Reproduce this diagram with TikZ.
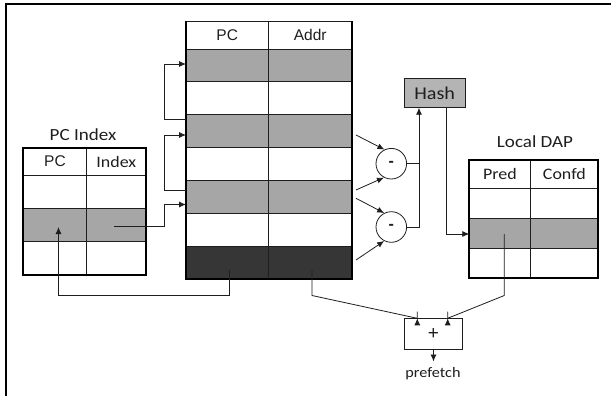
\documentclass[tikz,border=0pt]{standalone}
\usepackage{fontspec}
\setmainfont{Carlito}
\newfontfamily\cf[FakeStretch=1.12]{Carlito}
\newfontfamily\af{Liberation Sans}
\usetikzlibrary{arrows.meta,calc}
\definecolor{gA}{HTML}{A6A6A6}
\definecolor{gD}{HTML}{363636}
\definecolor{gH}{HTML}{B4B4B4}
\definecolor{ink}{HTML}{1E1E1E}
\begin{document}
\begin{tikzpicture}[x=1pt,y=-1pt,
  cellbox/.style={draw=ink, line width=0.8pt, inner sep=0pt, outer sep=0pt, anchor=north west, text=ink},
  arr/.style={draw=ink, line width=0.8pt, -{Latex[length=7pt,width=6pt]}},
  ln/.style={draw=ink, line width=0.8pt},
  heavy/.style={draw=black, line width=2.2pt},
  ttl/.style={font=\cf\fontsize{17}{19}\selectfont, text=ink, inner sep=0pt},
  hdr/.style={font=\af\fontsize{15.5}{17}\selectfont},
  hdrc/.style={font=\cf\fontsize{16}{18}\selectfont},
]
\useasboundingbox (0,0) rectangle (611,396);
% frame
\draw[heavy] (6,396) -- (6,4) -- (611,4);

% ---------- main table ----------
\node[cellbox, minimum width=82.5pt, minimum height=28pt, hdr] (mhL) at (186,21) {PC};
\node[cellbox, minimum width=83.5pt, minimum height=28pt, hdr] (mhR) at (268.5,21) {Addr};
\foreach \r/\f in {1/gA,2/white,3/gA,4/white,5/gA,6/white,7/gD}{
  \node[cellbox, fill=\f, minimum width=82.5pt, minimum height=32.9pt] (mL\r) at (186,{49+(\r-1)*32.9}) {};
  \node[cellbox, fill=\f, minimum width=83.5pt, minimum height=32.9pt] (mR\r) at (268.5,{49+(\r-1)*32.9}) {};
}
\draw[heavy] (mhL.north west) -- (mL7.south west) -- (mR7.south east) -- (mhR.north east);

% ---------- PC Index table ----------
\node[ttl] (pctitle) at (83,135) {PC Index};
\node[cellbox, minimum width=63.4pt, minimum height=26.7pt, hdr] (phL) at (23.3,148.3) {PC};
\node[cellbox, minimum width=59.3pt, minimum height=26.7pt, hdrc] (phR) at (86.7,148.3) {Index};
\foreach \r/\f in {1/white,2/gA,3/white}{
  \node[cellbox, fill=\f, minimum width=63.4pt, minimum height=33.3pt] (pL\r) at (23.3,{175+(\r-1)*33.3}) {};
  \node[cellbox, fill=\f, minimum width=59.3pt, minimum height=33.3pt] (pR\r) at (86.7,{175+(\r-1)*33.3}) {};
}
\draw[heavy] (phL.north west) rectangle (pR3.south east);

% ---------- Local DAP table ----------
\node[ttl] (dtitle) at (535,142) {Local DAP};
\node[cellbox, minimum width=61.4pt, minimum height=28.3pt, hdrc] (dhL) at (469.3,160) {Pred};
\node[cellbox, minimum width=67.3pt, minimum height=28.3pt, hdrc] (dhR) at (530.7,160) {Confd};
\foreach \r/\f in {1/white,2/gA,3/white}{
  \node[cellbox, fill=\f, minimum width=61.4pt, minimum height=29.8pt] (dL\r) at (469.3,{188.3+(\r-1)*29.8}) {};
  \node[cellbox, fill=\f, minimum width=67.3pt, minimum height=29.8pt] (dR\r) at (530.7,{188.3+(\r-1)*29.8}) {};
}
\draw[heavy] (dhL.north west) rectangle (dR3.south east);

% ---------- Hash, subtractors, adder ----------
\node[cellbox, fill=gH, minimum width=60.7pt, minimum height=29.4pt, font=\cf\fontsize{18}{20}\selectfont] (hash) at (404.3,78.3) {Hash};
\node[circle, draw=ink, line width=0.8pt, minimum size=30.6pt, inner sep=0pt, text=ink, font=\af\bfseries\fontsize{16}{18}\selectfont] (c1) at (391.3,163.7) {-};
\node[circle, draw=ink, line width=0.8pt, minimum size=30.6pt, inner sep=0pt, text=ink, font=\af\bfseries\fontsize{16}{18}\selectfont] (c2) at (391.3,227) {-};
\node[cellbox, minimum width=58.4pt, minimum height=30.7pt, font=\af\fontsize{19}{21}\selectfont] (plus) at (404.3,318.3) {+};
\node[ttl, font=\cf\fontsize{14.5}{16}\selectfont] (pf) at (433,374) {prefetch};

% ---------- coordinates ----------
\coordinate (xl) at (164.5,0);
\coordinate (aIn1) at (186,64);
\coordinate (aOut1) at (186,119.3);
\coordinate (aIn2) at (186,135);
\coordinate (aOut2) at (186,190.7);
\coordinate (aIn3) at (186,204.5);
\coordinate (idx) at (114.3,226.7);
\coordinate (pcsrc) at (229.2,270);
\coordinate (pctip) at (58.5,227);
\coordinate (adsrc) at (312,270);
\coordinate (prsrc) at (504.3,234);
\coordinate (yb) at (0,295.5);
\coordinate (hin) at (419,107.7);
\coordinate (hout) at (446.7,107.7);
\coordinate (s1) at (356,135);
\coordinate (s2) at (356,190);
\coordinate (s3) at (356,198.3);
\coordinate (s4) at (356,260);

% ---------- connectors ----------
\draw[arr] (aOut1) -- (aOut1 -| xl) -- (aIn1 -| xl) -- (aIn1);
\draw[arr] (aOut2) -- (aOut2 -| xl) -- (aIn2 -| xl) -- (aIn2);
\draw[arr] (idx) -- (idx -| xl) -- (aIn3 -| xl) -- (aIn3);
\draw[arr] (pcsrc) -- (pcsrc |- yb) -- (pctip |- yb) -- (pctip);
\draw[arr] (adsrc) -- (adsrc |- yb) -- ($(plus.north west)+(13,0)$ |- yb) -- ($(plus.north west)+(13,0)$);
\draw[arr] (prsrc) -- (prsrc |- yb) -- ($(plus.north west)+(43.4,0)$ |- yb) -- ($(plus.north west)+(43.4,0)$);
\draw[arr] (plus.south) -- ($(plus.south)+(0,12.5)$);
\draw[arr] (s1) -- (c1.116);
\draw[arr] (s2) -- (c1.242);
\draw[arr] (s3) -- (c2.117);
\draw[arr] (s4) -- (c2.243);
\draw[ln] (c1.east) -- (c1.east -| hin);
\draw[arr] (c2.east) -| (hin);
\draw[arr] (hout) -- (hout |- prsrc) -- (dL2.west |- prsrc);
\end{tikzpicture}
\end{document}
